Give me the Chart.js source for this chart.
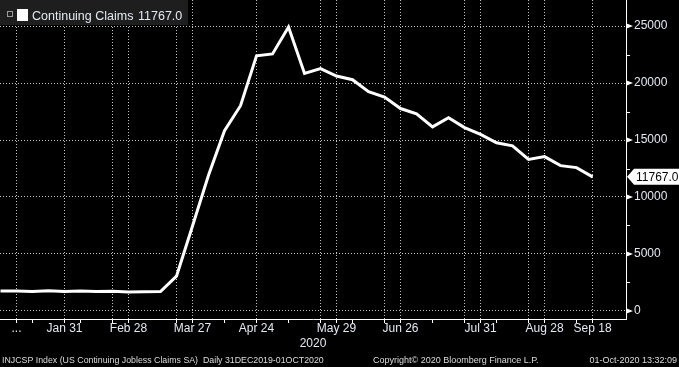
<!DOCTYPE html>
<html lang="en">
  <head>
    <meta charset="UTF-8" />
    <title>US Continuing Jobless Claims</title>
    <script src="https://cdn.jsdelivr.net/npm/chart.js"></script>
    <style>
      html, body { margin: 0; padding: 0; background: #000; }
      #wrap { width: 679px; height: 367px; position: relative; }
    </style>
  </head>
  <body>
    <div id="wrap"><canvas id="myChart"></canvas></div>
    <script>
      // weekly data, thousands (SA)
      const weekEnding = ["2020-01-04","2020-01-11","2020-01-18","2020-01-25","2020-02-01","2020-02-08","2020-02-15","2020-02-22","2020-02-29","2020-03-07","2020-03-14","2020-03-21","2020-03-28","2020-04-04","2020-04-11","2020-04-18","2020-04-25","2020-05-02","2020-05-09","2020-05-16","2020-05-23","2020-05-30","2020-06-06","2020-06-13","2020-06-20","2020-06-27","2020-07-04","2020-07-11","2020-07-18","2020-07-25","2020-08-01","2020-08-08","2020-08-15","2020-08-22","2020-08-29","2020-09-05","2020-09-12","2020-09-19"];
      const claims = [1750,1760,1720,1770,1710,1760,1700,1730,1670,1680,1700,3060,7450,11910,15820,18010,22380,22550,24910,20840,21270,20610,20290,19230,18760,17760,17300,16150,16950,16090,15490,14760,14490,13290,13540,12750,12580,11767];

      // x axis: labelled dates, extra grid dates, plain tick dates
      const labelDates = ["2020-01-10","2020-01-31","2020-02-28","2020-03-27","2020-04-24","2020-05-29","2020-06-26","2020-07-31","2020-08-28","2020-09-18"];
      const labelTexts = ["...","Jan 31","Feb 28","Mar 27","Apr 24","May 29","Jun 26","Jul 31","Aug 28","Sep 18"];
      const gridDates = ["2020-02-21","2020-03-20","2020-05-22","2020-06-19","2020-07-24","2020-08-21"];
      const tickDates = ["2020-01-17","2020-02-07","2020-04-10","2020-05-08","2020-06-05","2020-07-10","2020-08-07","2020-09-11"];
      const yearText = "2020";

      // y axis
      const yMajor = [0, 5000, 10000, 15000, 20000, 25000];
      const yMinor = [2500, 7500, 12500, 17500, 22500];

      const seriesName = "Continuing Claims";
      const footLeft = "INJCSP Index (US Continuing Jobless Claims SA)  Daily 31DEC2019-01OCT2020";
      const footMid = "Copyright\u00a9 2020 Bloomberg Finance L.P.";
      const footRight = "01-Oct-2020 13:32:09";

      // week index of a date (week containing it)
      const day0 = Date.parse(weekEnding[0]);
      const weekOf = (s) => Math.ceil((Date.parse(s) - day0) / 864e5 / 7);

      const labelMap = {};
      labelDates.forEach((d, i) => (labelMap[weekOf(d)] = labelTexts[i]));
      const gridSet = new Set(labelDates.concat(gridDates).map(weekOf));
      const allTicks = [...new Set(labelDates.concat(gridDates, tickDates).map(weekOf))].sort((a, b) => a - b);

      const points = claims.map((v, i) => ({ x: i, y: v }));
      const last = claims[claims.length - 1];

      const FONT = "'Liberation Sans', Arial, sans-serif";
      const TXT = "#e4e9f2";
      const GRID = "#c4c4c4";

      const decor = {
        id: "decor",
        // dotted horizontal grid, one pixel dot every 3px
        beforeDatasetsDraw(chart) {
          const ctx = chart.ctx;
          const ys = chart.scales.y;
          const { left, right } = chart.chartArea;
          ctx.save();
          ctx.fillStyle = GRID;
          yMajor.forEach((v) => {
            const row = Math.floor(ys.getPixelForValue(v));
            for (let x = Math.ceil(left); x < right; x += 3) ctx.fillRect(x, row, 1, 1);
          });
          ctx.restore();
        },
        afterDraw(chart) {
          const ctx = chart.ctx;
          const xs = chart.scales.x;
          const ys = chart.scales.y;
          const right = chart.chartArea.right;
          ctx.save();

          // minor y ticks and major arrows
          ctx.strokeStyle = "#fff";
          ctx.lineWidth = 1;
          yMinor.forEach((v) => {
            const y = Math.round(ys.getPixelForValue(v)) + 0.5;
            ctx.beginPath();
            ctx.moveTo(right, y);
            ctx.lineTo(right + 4, y);
            ctx.stroke();
          });
          ctx.fillStyle = "#fff";
          yMajor.forEach((v) => {
            const y = ys.getPixelForValue(v);
            ctx.beginPath();
            ctx.moveTo(right, y - 2.7);
            ctx.lineTo(right + 7, y);
            ctx.lineTo(right, y + 2.7);
            ctx.closePath();
            ctx.fill();
          });

          // last value tag
          const yv = ys.getPixelForValue(last);
          ctx.fillStyle = "#fff";
          ctx.beginPath();
          ctx.moveTo(right + 1, yv);
          ctx.lineTo(right + 8, yv - 8);
          ctx.lineTo(679, yv - 8);
          ctx.lineTo(679, yv + 8);
          ctx.lineTo(right + 8, yv + 8);
          ctx.closePath();
          ctx.fill();
          ctx.fillStyle = "#000";
          ctx.font = "12px " + FONT;
          ctx.textBaseline = "middle";
          ctx.textAlign = "left";
          ctx.fillText(last.toFixed(1), right + 10, yv + 0.5);

          // legend box
          ctx.fillStyle = "#1e1e1e";
          ctx.fillRect(0, 0, 188, 25);
          ctx.strokeStyle = "#9a9a9a";
          ctx.strokeRect(7.5, 11.5, 5, 5);
          ctx.fillStyle = "#fff";
          ctx.fillRect(17, 9, 11, 12);
          ctx.fillStyle = TXT;
          ctx.font = "12.5px " + FONT;
          ctx.textBaseline = "alphabetic";
          ctx.fillText(seriesName, 32, 20);
          ctx.fillText(last.toFixed(1), 138, 20);

          // year label centered on visible range
          ctx.font = "12px " + FONT;
          ctx.textAlign = "center";
          ctx.fillText(yearText, xs.getPixelForValue((xs.min + xs.max) / 2), 347);

          // footer
          ctx.font = "8.8px " + FONT;
          ctx.fillStyle = "#dcdcdc";
          ctx.textAlign = "left";
          ctx.fillText(footLeft, 2, 363);
          ctx.font = "9px " + FONT;
          ctx.fillText(footMid, 373, 363);
          ctx.textAlign = "right";
          ctx.fillText(footRight, 677, 363);
          ctx.restore();
        },
      };

      const config = {
        type: "line",
        data: {
          datasets: [
            {
              label: seriesName,
              data: points,
              borderColor: "#fff",
              borderWidth: 3,
              pointRadius: 0,
              tension: 0,
              clip: false,
            },
          ],
        },
        options: {
          responsive: true,
          maintainAspectRatio: false,
          animation: false,
          layout: { padding: 0 },
          plugins: { legend: { display: false }, tooltip: { enabled: false } },
          scales: {
            x: {
              type: "linear",
              min: -0.03,
              max: 39.09,
              afterBuildTicks: (s) => (s.ticks = allTicks.map((v) => ({ value: v }))),
              afterFit: (s) => {
                s.height = 48;
                s.paddingLeft = 0;
                s.paddingRight = 0;
              },
              ticks: {
                autoSkip: false,
                maxRotation: 0,
                padding: -2,
                color: TXT,
                font: { family: FONT, size: 12 },
                callback: (v) => labelMap[v] || "",
              },
              grid: {
                color: (c) => (c.tick && gridSet.has(c.tick.value) ? GRID : "rgba(0,0,0,0)"),
                tickColor: "#fff",
                tickLength: 4,
                lineWidth: 1,
              },
              border: { display: true, color: "#fff", width: 1, dash: [1, 2] },
            },
            y: {
              position: "right",
              min: -702,
              max: 27281,
              afterBuildTicks: (s) => (s.ticks = yMajor.map((v) => ({ value: v }))),
              afterFit: (s) => {
                s.width = 53;
                s.paddingTop = 0;
                s.paddingBottom = 0;
              },
              ticks: {
                autoSkip: false,
                padding: 8,
                color: TXT,
                font: { family: FONT, size: 12 },
                callback: (v) => String(v),
              },
              grid: { drawOnChartArea: false, drawTicks: false },
              border: { display: true, color: "#fff", width: 1 },
            },
          },
        },
        plugins: [decor],
      };

      new Chart(document.getElementById("myChart"), config);
    </script>
  </body>
</html>
